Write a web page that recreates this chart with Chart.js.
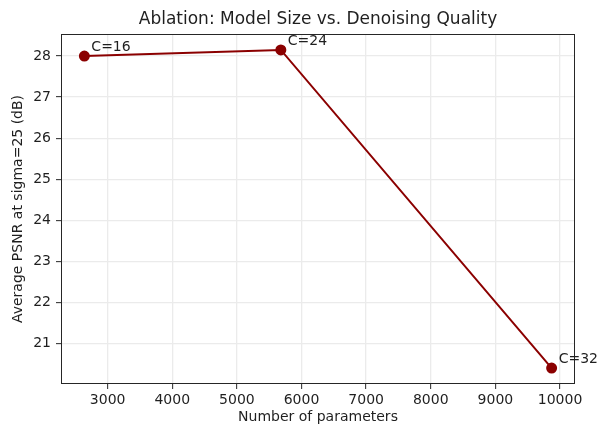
<!DOCTYPE html>
<html>
<head>
<meta charset="utf-8">
<script src="https://cdn.jsdelivr.net/npm/chart.js@4"></script>
<style>
  html, body { margin: 0; padding: 0; background: #fff; }
</style>
</head>
<body>
<canvas id="chart" width="601" height="426"></canvas>
<script>
const pointLabels = ["C=16", "C=24", "C=32"];
const numParams = [2640, 5680, 9870];
const psnr = [28.0, 28.15, 20.4];
const xTicks = [3000, 4000, 5000, 6000, 7000, 8000, 9000, 10000];
const yTicks = [21, 22, 23, 24, 25, 26, 27, 28];
const titleText = "Ablation: Model Size vs. Denoising Quality";

// matplotlib-style 5% margins around the data
function padded(arr) {
  const lo = Math.min(...arr), hi = Math.max(...arr);
  const m = (hi - lo) * 0.05;
  return [lo - m, hi + m];
}
const [xMin, xMax] = padded(numParams);
const [yMin, yMax] = padded(psnr);

const font = "'DejaVu Sans', sans-serif";
const textColor = "#1f1f1f";
const gridColor = "#ebebeb";
const spineColor = "#262626";

// frame on all four sides, title over the plot area, point annotations
const framePlugin = {
  id: "frame",
  beforeDatasetsDraw(chart) {
    const { ctx, chartArea: a } = chart;
    ctx.save();
    ctx.strokeStyle = spineColor;
    ctx.lineWidth = 1;
    ctx.strokeRect(Math.round(a.left) + 0.5, Math.round(a.top) + 0.5,
      Math.round(a.right - a.left) - 1, Math.round(a.bottom - a.top) - 1);
    ctx.font = "17px " + font;
    ctx.fillStyle = textColor;
    ctx.textAlign = "center";
    ctx.textBaseline = "middle";
    ctx.fillText(titleText, (a.left + a.right) / 2, 20);
    ctx.restore();
  },
  afterDatasetsDraw(chart) {
    const { ctx } = chart;
    const pts = chart.getDatasetMeta(0).data;
    ctx.save();
    ctx.font = "14px " + font;
    ctx.fillStyle = textColor;
    ctx.textAlign = "left";
    ctx.textBaseline = "alphabetic";
    pts.forEach((p, i) => {
      ctx.fillText(pointLabels[i], p.x + 7, p.y - 5);
    });
    ctx.restore();
  }
};

new Chart(document.getElementById("chart"), {
  type: "line",
  data: {
    datasets: [{
      data: numParams.map((x, i) => ({ x: x, y: psnr[i] })),
      borderColor: "#8b0000",
      backgroundColor: "#8b0000",
      borderWidth: 2,
      pointRadius: 4.5,
      pointHoverRadius: 4.5,
      tension: 0,
      fill: false
    }]
  },
  options: {
    responsive: false,
    devicePixelRatio: 1,
    animation: false,
    layout: { padding: { left: 0, right: 26, top: 34, bottom: 0 } },
    plugins: {
      legend: { display: false },
      tooltip: { enabled: false },
      title: { display: false }
    },
    scales: {
      x: {
        type: "linear",
        min: xMin,
        max: xMax,
        afterFit(scale) { scale.height = 42; },
        afterBuildTicks(scale) { scale.ticks = xTicks.map(v => ({ value: v })); },
        ticks: {
          color: textColor,
          padding: 3,
          maxRotation: 0,
          autoSkip: false,
          font: { family: font, size: 14 },
          callback: v => String(v)
        },
        grid: {
          color: gridColor,
          lineWidth: 1.3,
          tickColor: spineColor,
          tickLength: 5,
          tickWidth: 1
        },
        border: { display: false },
        title: {
          display: true,
          text: "Number of parameters",
          color: textColor,
          font: { family: font, size: 14 },
          padding: { top: 0, bottom: 0 }
        }
      },
      y: {
        type: "linear",
        min: yMin,
        max: yMax,
        afterFit(scale) { scale.width = 61; },
        afterBuildTicks(scale) { scale.ticks = yTicks.map(v => ({ value: v })); },
        ticks: {
          color: textColor,
          padding: 5,
          autoSkip: false,
          font: { family: font, size: 14 },
          callback: v => String(v)
        },
        grid: {
          color: gridColor,
          lineWidth: 1.3,
          tickColor: spineColor,
          tickLength: 5,
          tickWidth: 1
        },
        border: { display: false },
        title: {
          display: true,
          text: "Average PSNR at sigma=25 (dB)",
          color: textColor,
          font: { family: font, size: 14 },
          padding: { top: 10, bottom: 0 }
        }
      }
    }
  },
  plugins: [framePlugin]
});
</script>
</body>
</html>
